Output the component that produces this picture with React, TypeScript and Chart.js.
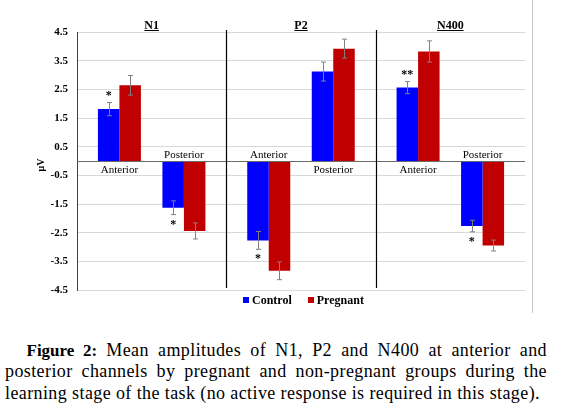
import { useEffect, useRef } from "react"
import { Chart, registerables } from "chart.js"
import type { Plugin } from "chart.js"

Chart.register(...registerables)

// ERP components (one panel each) and recording regions
const components = ["N1", "P2", "N400"]
const regionNames = ["Anterior", "Posterior"]
const seriesNames = ["Control", "Pregnant"]
const seriesColors = ["#0000ff", "#c00000"]

// mean amplitudes (µV)
const controlAnterior = [1.81, -2.77, 2.56]
const pregnantAnterior = [2.64, -3.83, 3.82]
const controlPosterior = [-1.63, 3.12, -2.27]
const pregnantPosterior = [-2.44, 3.92, -2.95]

// standard errors
const controlAnteriorErr = [0.23, 0.31, 0.21]
const pregnantAnteriorErr = [0.34, 0.31, 0.37]
const controlPosteriorErr = [0.24, 0.33, 0.2]
const pregnantPosteriorErr = [0.28, 0.33, 0.19]

// significance marks on the control bars
const anteriorStars = ["*", "*", "**"]
const posteriorStars = ["*", "", "*"]

const yTicks = [4.5, 3.5, 2.5, 1.5, 0.5, -0.5, -1.5, -2.5, -3.5, -4.5]

const SERIF = "'Liberation Serif', 'Times New Roman', serif"

// dataset index -> error values (index 2 is the empty spacer)
const errors = [controlAnteriorErr, pregnantAnteriorErr, [], controlPosteriorErr, pregnantPosteriorErr]

const regionPairs = [
  { control: 0, pregnant: 1, values: controlAnterior, name: regionNames[0], stars: anteriorStars },
  { control: 3, pregnant: 4, values: controlPosterior, name: regionNames[1], stars: posteriorStars },
]

const overlay: Plugin<"bar"> = {
  id: "overlay",
  afterDatasetsDraw(chart) {
    const { ctx, chartArea, scales } = chart
    const x = scales.x
    const y = scales.y
    const y0 = y.getPixelForValue(0)
    ctx.save()

    // zero line
    ctx.strokeStyle = "#6b6b6b"
    ctx.lineWidth = 1
    ctx.beginPath()
    ctx.moveTo(chartArea.left, Math.round(y0) + 0.5)
    ctx.lineTo(chartArea.right, Math.round(y0) + 0.5)
    ctx.stroke()

    // error bars
    ctx.strokeStyle = "#808080"
    errors.forEach((errs, d) => {
      if (!errs.length) return
      const meta = chart.getDatasetMeta(d)
      const values = chart.data.datasets[d].data as number[]
      meta.data.forEach((bar, i) => {
        const bx = Math.round(bar.x) + 0.5
        const top = y.getPixelForValue(values[i] + errs[i])
        const bot = y.getPixelForValue(values[i] - errs[i])
        ctx.beginPath()
        ctx.moveTo(bx, top)
        ctx.lineTo(bx, bot)
        ctx.moveTo(bx - 2.5, top)
        ctx.lineTo(bx + 2.5, top)
        ctx.moveTo(bx - 2.5, bot)
        ctx.lineTo(bx + 2.5, bot)
        ctx.stroke()
      })
    })

    // region labels and stars
    ctx.fillStyle = "#000"
    ctx.textAlign = "center"
    ctx.textBaseline = "alphabetic"
    regionPairs.forEach((pair) => {
      const cMeta = chart.getDatasetMeta(pair.control)
      const pMeta = chart.getDatasetMeta(pair.pregnant)
      const cErr = errors[pair.control]
      pair.values.forEach((v, i) => {
        const cx = (cMeta.data[i].x + pMeta.data[i].x) / 2
        ctx.font = `11px ${SERIF}`
        ctx.fillText(pair.name, cx, v > 0 ? y0 + 11.5 : y0 - 3)
        const star = pair.stars[i]
        if (star) {
          const sx = cMeta.data[i].x
          ctx.font = `bold 12px ${SERIF}`
          if (v > 0) ctx.fillText(star, sx, y.getPixelForValue(v + cErr[i]) - 4)
          else ctx.fillText(star, sx, y.getPixelForValue(v - cErr[i]) + 13)
        }
      })
    })

    // panel titles, underlined
    ctx.font = `bold 12px ${SERIF}`
    ctx.strokeStyle = "#000"
    components.forEach((name, i) => {
      const cx = x.getPixelForValue(i)
      const w = ctx.measureText(name).width
      ctx.fillText(name, cx, 29)
      ctx.beginPath()
      ctx.moveTo(cx - w / 2, 30.5)
      ctx.lineTo(cx + w / 2, 30.5)
      ctx.stroke()
    })

    // panel separators
    ctx.lineWidth = 1.2
    for (let i = 1; i < components.length; i++) {
      const sx = Math.round(x.getPixelForValue(i - 0.5)) + 0.5
      ctx.beginPath()
      ctx.moveTo(sx, chartArea.top - 2)
      ctx.lineTo(sx, chartArea.bottom - 2)
      ctx.stroke()
    }

    // y axis title
    ctx.save()
    ctx.translate(41.5, 165)
    ctx.rotate(-Math.PI / 2)
    ctx.font = `bold 10px ${SERIF}`
    ctx.textBaseline = "middle"
    ctx.fillText("μV", 0, 0)
    ctx.restore()

    // figure frame edge
    ctx.strokeStyle = "#c8c8c8"
    ctx.lineWidth = 1
    ctx.beginPath()
    ctx.moveTo(532.5, 0)
    ctx.lineTo(532.5, 313)
    ctx.stroke()

    ctx.restore()
  },
}

function ErpChart() {
  const chartRef = useRef<HTMLCanvasElement>(null)
  const chartInstance = useRef<Chart | null>(null)

  useEffect(() => {
    if (!chartRef.current) return
    if (chartInstance.current) chartInstance.current.destroy()

    chartInstance.current = new Chart(chartRef.current, {
      type: "bar",
      data: {
        labels: components,
        datasets: [
          { label: seriesNames[0], data: controlAnterior, backgroundColor: seriesColors[0] },
          { label: seriesNames[1], data: pregnantAnterior, backgroundColor: seriesColors[1] },
          { label: "", data: components.map(() => null) }, // gap between regions
          { label: seriesNames[0], data: controlPosterior, backgroundColor: seriesColors[0] },
          { label: seriesNames[1], data: pregnantPosterior, backgroundColor: seriesColors[1] },
        ],
      },
      options: {
        responsive: false,
        animation: false,
        barPercentage: 1,
        categoryPercentage: 0.72,
        layout: { padding: { top: 32, right: 10, bottom: 30, left: 0 } },
        plugins: {
          legend: { display: false },
          tooltip: { enabled: false },
        },
        scales: {
          x: { display: false },
          y: {
            min: -4.5,
            max: 4.5,
            afterBuildTicks: (scale) => {
              scale.ticks = yTicks.map((value) => ({ value }))
            },
            afterFit: (scale) => {
              scale.width = 77
            },
            ticks: {
              padding: 9,
              color: "#000",
              font: { family: SERIF, size: 11, weight: "bold" },
              callback: (value) => Number(value).toFixed(1),
            },
            grid: { color: "#d9d9d9", drawTicks: false },
            border: { color: "#404040", width: 1 },
          },
        },
      },
      plugins: [overlay],
    })

    return () => {
      if (chartInstance.current) {
        chartInstance.current.destroy()
        chartInstance.current = null
      }
    }
  }, [])

  return (
    <canvas
      ref={chartRef}
      width={535}
      height={320}
      style={{ position: "absolute", left: 0, top: 0, width: 535, height: 320 }}
    />
  )
}

export default function App() {
  return (
    <div
      style={{
        position: "absolute",
        left: 0,
        top: 0,
        width: 565,
        height: 411,
        background: "#fff",
        overflow: "hidden",
      }}
    >
      <ErpChart />
      <div
        style={{
          position: "absolute",
          left: 243,
          top: 293,
          display: "flex",
          alignItems: "center",
          font: `bold 12px ${SERIF}`,
          lineHeight: "14px",
          color: "#000",
        }}
      >
        {seriesNames.map((name, i) => (
          <span key={name} style={{ display: "flex", alignItems: "center", marginLeft: i ? 16 : 0 }}>
            <span style={{ width: 6, height: 6, background: seriesColors[i], marginRight: 3 }} />
            {name}
          </span>
        ))}
      </div>
      <div
        style={{
          position: "absolute",
          left: 5,
          top: 340,
          width: 542,
          font: `18px ${SERIF}`,
          letterSpacing: "0.4px",
          lineHeight: "21.3px",
          color: "#000",
        }}
      >
        <div style={{ textAlign: "justify", textAlignLast: "justify", textIndent: 21.5 }}>
          <b style={{ fontSize: 17, letterSpacing: 0 }}>Figure 2:</b> Mean amplitudes of N1, P2 and N400 at
          anterior and
        </div>
        <div style={{ textAlign: "justify", textAlignLast: "justify" }}>
          posterior channels by pregnant and non-pregnant groups during the
        </div>
        <div>learning stage of the task (no active response is required in this stage).</div>
      </div>
    </div>
  )
}
